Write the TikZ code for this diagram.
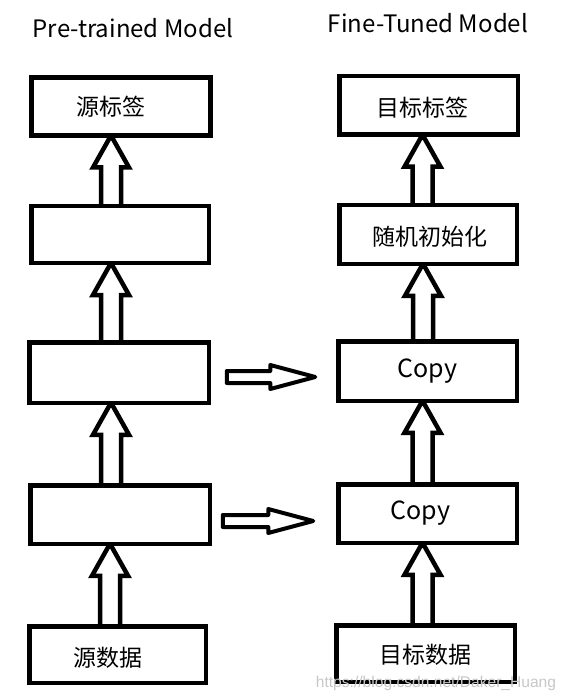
\documentclass[tikz,border=0pt]{standalone}
\usepackage{fontspec}
\setmainfont{Noto Sans CJK SC}
\newfontfamily\wmfont{Liberation Sans}
\usetikzlibrary{calc,backgrounds}
\tikzset{
  box/.style={draw, line width=4.5pt, fill=white, inner sep=0pt, outer sep=0pt},
  hollow/.style={draw, line width=4.5pt, fill=white, line join=miter},
  hollowh/.style={draw, line width=4pt, fill=white, line join=round},
  boxtext/.style={font=\fontsize{23}{27}\selectfont},
  copytext/.style={font=\fontsize{25}{29}\selectfont},
  title/.style={font=\fontsize{24}{28}\selectfont},
}
% up arrow from lower box #1 to upper box #2, centre offset #3 from upper box centre
\newcommand{\uparr}[3]{%
  \begin{scope}[on background layer]
  \draw[hollow] let \p1=($(#2.south)+(#3pt,0)$), \p2=(#1.north) in
    (\x1-10pt,\y2) -- (\x1-10pt,\y1-32pt) -- (\x1-18pt,\y1-32pt) -- (\x1,\y1)
    -- (\x1+18pt,\y1-32pt) -- (\x1+10pt,\y1-32pt) -- (\x1+10pt,\y2);
  \end{scope}}
% right arrow from box #1 to box #2, y offset #3, start gap #4, end gap #5
\newcommand{\rarr}[5]{%
  \draw[hollowh] let \p1=($(#1.east)+(#4pt,-#3pt)$), \p2=($(#2.west)+(-#5pt,0)$) in
    (\x1,\y1+6pt) -- (\x2-45pt,\y1+6pt) -- (\x2-45pt,\y1+12pt) -- (\x2,\y1)
    -- (\x2-45pt,\y1-12pt) -- (\x2-45pt,\y1-6pt) -- (\x1,\y1-6pt) -- cycle;}
\begin{document}
\begin{tikzpicture}[x=1pt,y=-1pt]
\useasboundingbox (0,0) rectangle (567,700);
\node[title] (t1) at (133,28) {Pre-trained Model};
\node[title] (t2) at (428,23) {Fine-Tuned Model};
% left column
\node[box, minimum width=179pt, minimum height=58pt,
  label={[boxtext, xshift=-10pt]center:源标签}] (L1) at (121,106.5) {};
\node[box, minimum width=177.5pt, minimum height=57pt] (L2) at (120,234.5) {};
\node[box, minimum width=179.5pt, minimum height=60.5pt] (L3) at (119,372.5) {};
\node[box, minimum width=179.5pt, minimum height=58.5pt] (L4) at (120,514.5) {};
\node[box, minimum width=176.5pt, minimum height=56.5pt,
  label={[boxtext, xshift=-10pt, yshift=-3pt]center:源数据}] (L5) at (117.5,654.5) {};
% right column
\node[box, minimum width=178.5pt, minimum height=58.5pt,
  label={[boxtext, xshift=-6pt, yshift=-2pt]center:目标标签}] (R1) at (428.5,105.5) {};
\node[box, minimum width=177.5pt, minimum height=58.5pt,
  label={[boxtext, xshift=2pt, yshift=-2pt]center:随机初始化}] (R2) at (428,234.5) {};
\node[box, minimum width=178.5pt, minimum height=59.5pt,
  label={[copytext]center:Copy}] (R3) at (427.5,371) {};
\node[box, minimum width=178.5pt, minimum height=58.5pt,
  label={[copytext, xshift=-7pt]center:Copy}] (R4) at (427.5,513.5) {};
\node[box, minimum width=178.5pt, minimum height=56.5pt,
  label={[boxtext, yshift=-1.5pt]center:目标数据}] (R5) at (425.5,653.5) {};
% vertical arrows
\uparr{L2}{L1}{-10}
\uparr{L3}{L2}{-9}
\uparr{L4}{L3}{-8}
\uparr{L5}{L4}{-10}
\uparr{R2}{R1}{-6}
\uparr{R3}{R2}{-5}
\uparr{R4}{R3}{-5}
\uparr{R5}{R4}{-5}
% horizontal arrows
\rarr{L3}{R3}{4.5}{18}{23}
\rarr{L4}{R4}{6.5}{13}{25}
% watermark
\node[font=\wmfont\fontsize{15.6}{18}\selectfont, text=black!22] (wm) at (436,683) {https://blog.csdn.net/Daker\_Huang};
\end{tikzpicture}
\end{document}
